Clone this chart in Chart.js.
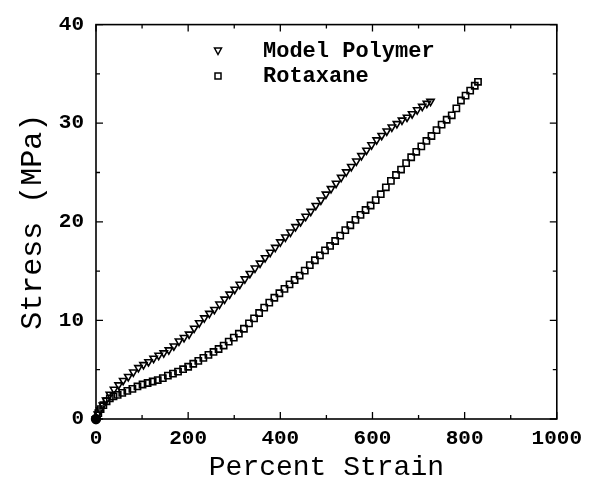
<!DOCTYPE html>
<html>
<head>
<meta charset="utf-8">
<script src="https://cdn.jsdelivr.net/npm/chart.js@4.4.1/dist/chart.umd.min.js"></script>
<style>
  html, body { margin: 0; padding: 0; background: #fff; }
  #wrap { width: 589px; height: 492px; }
</style>
</head>
<body>
<div id="wrap"><canvas id="stressChart"></canvas></div>
<script>
// values (strain in %, stress in MPa)
const modelStrain = [0, 4, 9, 15, 22, 30, 39, 49, 59, 70, 81, 92, 103, 114, 125, 136, 147, 158, 169, 180,
  191, 202, 213, 224, 235, 246, 257, 268, 279, 290, 301, 312, 323, 334, 345, 356, 367, 378, 389, 400,
  411, 422, 433, 444, 455, 466, 477, 488, 499, 510, 521, 532, 543, 554, 565, 576, 587, 598, 609, 620,
  631, 642, 653, 664, 675, 686, 697, 708, 718, 726];
const modelStress = [0, 0.5, 0.9, 1.4, 1.9, 2.5, 3.0, 3.45, 3.9, 4.3, 4.75, 5.2, 5.5, 5.8, 6.15, 6.45, 6.7, 7.0, 7.4, 7.9,
  8.25, 8.6, 9.2, 9.75, 10.25, 10.7, 11.1, 11.65, 12.15, 12.65, 13.15, 13.65, 14.2, 14.75, 15.3, 15.8, 16.35, 16.9, 17.4, 17.95,
  18.45, 18.95, 19.5, 20.0, 20.55, 21.05, 21.65, 22.2, 22.8, 23.35, 23.9, 24.5, 25.05, 25.6, 26.15, 26.7, 27.25, 27.8, 28.3, 28.75,
  29.2, 29.6, 29.95, 30.3, 30.6, 30.95, 31.35, 31.7, 32.0, 32.2];

const rotaxStrain = [0, 5, 10, 16, 23, 30, 38, 47, 57, 68, 79, 90, 101, 112, 123, 134, 145, 156, 167, 178,
  189, 200, 211, 222, 233, 244, 255, 266, 277, 288, 299, 310, 321, 332, 343, 354, 365, 376, 387, 398,
  409, 420, 431, 442, 453, 464, 475, 486, 497, 508, 519, 530, 541, 552, 563, 574, 585, 596, 607, 618,
  629, 640, 651, 662, 673, 684, 695, 706, 717, 728, 739, 750, 761, 772, 782, 792, 802, 812, 822, 829];
const rotaxStress = [0, 0.6, 1.0, 1.4, 1.8, 2.1, 2.3, 2.45, 2.65, 2.85, 3.05, 3.3, 3.5, 3.65, 3.8, 3.95, 4.15, 4.4, 4.6, 4.8,
  5.05, 5.3, 5.6, 5.9, 6.2, 6.5, 6.8, 7.1, 7.45, 7.85, 8.25, 8.65, 9.15, 9.7, 10.2, 10.75, 11.3, 11.8, 12.3, 12.75,
  13.2, 13.65, 14.1, 14.55, 15.05, 15.6, 16.1, 16.6, 17.1, 17.55, 18.05, 18.6, 19.15, 19.65, 20.2, 20.7, 21.2, 21.65, 22.2, 22.8,
  23.5, 24.15, 24.75, 25.3, 25.95, 26.55, 27.1, 27.65, 28.2, 28.7, 29.3, 29.85, 30.35, 30.8, 31.5, 32.3, 32.8, 33.3, 33.8, 34.2];

const seriesNames = ["Model Polymer", "Rotaxane"];
const xMajor = [0, 200, 400, 600, 800, 1000];
const xMinor = [100, 300, 500, 700, 900];
const yMajor = [0, 10, 20, 30, 40];
const yMinor = [5, 15, 25, 35];

const toPoints = (xs, ys) => xs.map((v, i) => ({ x: v, y: ys[i] }));
const monoFont = "'Liberation Mono', 'DejaVu Sans Mono', monospace";

// frame box and inward tick marks
const frameTicks = {
  id: "frameTicks",
  afterDatasetsDraw(chart) {
    const { ctx, chartArea: a, scales: { x, y } } = chart;
    ctx.save();
    ctx.strokeStyle = "#000";
    ctx.lineWidth = 1.6;
    ctx.strokeRect(a.left, a.top, a.right - a.left, a.bottom - a.top);
    ctx.lineWidth = 1.3;
    ctx.beginPath();
    xMajor.forEach((v) => {
      const px = x.getPixelForValue(v);
      ctx.moveTo(px, a.bottom); ctx.lineTo(px, a.bottom - 7);
      ctx.moveTo(px, a.top); ctx.lineTo(px, a.top + 7);
    });
    xMinor.forEach((v) => {
      const px = x.getPixelForValue(v);
      ctx.moveTo(px, a.bottom); ctx.lineTo(px, a.bottom - 4);
      ctx.moveTo(px, a.top); ctx.lineTo(px, a.top + 4);
    });
    yMajor.forEach((v) => {
      const py = y.getPixelForValue(v);
      ctx.moveTo(a.left, py); ctx.lineTo(a.left + 7, py);
      ctx.moveTo(a.right, py); ctx.lineTo(a.right - 7, py);
    });
    yMinor.forEach((v) => {
      const py = y.getPixelForValue(v);
      ctx.moveTo(a.left, py); ctx.lineTo(a.left + 4, py);
      ctx.moveTo(a.right, py); ctx.lineTo(a.right - 4, py);
    });
    ctx.stroke();
    ctx.restore();
  },
};

// legend drawn inside the plot, upper middle
const insideLegend = {
  id: "insideLegend",
  afterDraw(chart) {
    const { ctx } = chart;
    const mx = 218, tx = 263, rows = [51, 76];
    ctx.save();
    ctx.strokeStyle = "#000";
    ctx.fillStyle = "#000";
    ctx.lineWidth = 1.5;
    // triangle pointing down
    ctx.beginPath();
    ctx.moveTo(mx - 3.5, rows[0] - 3);
    ctx.lineTo(mx + 3.5, rows[0] - 3);
    ctx.lineTo(mx, rows[0] + 3.5);
    ctx.closePath();
    ctx.stroke();
    // square
    ctx.strokeRect(mx - 3, rows[1] - 3, 6, 6);
    ctx.font = "bold 22px " + monoFont;
    ctx.textBaseline = "middle";
    ctx.textAlign = "left";
    seriesNames.forEach((name, i) => ctx.fillText(name, tx, rows[i]));
    ctx.restore();
  },
};

const ctx = document.getElementById("stressChart").getContext("2d");
new Chart(ctx, {
  type: "scatter",
  data: {
    datasets: [
      {
        label: seriesNames[0],
        data: toPoints(modelStrain, modelStress),
        pointStyle: "triangle",
        rotation: 180,
        pointRadius: 4.2,
        pointBorderWidth: 1.6,
        borderColor: "#000",
        backgroundColor: "rgba(0,0,0,0)",
        showLine: false,
        clip: false,
      },
      {
        label: seriesNames[1],
        data: toPoints(rotaxStrain, rotaxStress),
        pointStyle: (c) => (c.dataIndex === 0 ? "circle" : "rect"),
        pointRadius: 4.4,
        pointBorderWidth: 1.6,
        borderColor: "#000",
        backgroundColor: (c) => (c.dataIndex === 0 ? "#000" : "rgba(0,0,0,0)"),
        showLine: false,
        clip: false,
      },
    ],
  },
  options: {
    responsive: true,
    maintainAspectRatio: false,
    animation: false,
    events: [],
    layout: {
      padding: { left: 0, right: 27, top: 21, bottom: 0 },
    },
    plugins: {
      legend: { display: false },
      tooltip: { enabled: false },
    },
    scales: {
      x: {
        type: "linear",
        min: 0,
        max: 1000,
        afterFit: (s) => { s.height = 73; },
        afterBuildTicks: (s) => { s.ticks = xMajor.map((v) => ({ value: v })); },
        grid: { display: false, drawTicks: false },
        border: { display: false },
        ticks: {
          color: "#000",
          padding: 7,
          maxRotation: 0,
          callback: (v) => String(v),
          font: { family: monoFont, size: 21, weight: "bold" },
        },
        title: {
          display: true,
          text: "Percent Strain",
          color: "#000",
          padding: { top: 0, bottom: 8 },
          font: { family: monoFont, size: 28, weight: "normal" },
        },
      },
      y: {
        type: "linear",
        min: 0,
        max: 40,
        afterFit: (s) => { s.width = 96; },
        afterBuildTicks: (s) => { s.ticks = yMajor.map((v) => ({ value: v })); },
        grid: { display: false, drawTicks: false },
        border: { display: false },
        ticks: {
          color: "#000",
          padding: 12,
          callback: (v) => String(v),
          font: { family: monoFont, size: 21, weight: "bold" },
        },
        title: {
          display: true,
          text: "Stress (MPa)",
          color: "#000",
          padding: { top: 15, bottom: 0 },
          font: { family: monoFont, size: 30, weight: "normal" },
        },
      },
    },
  },
  plugins: [frameTicks, insideLegend],
});
</script>
</body>
</html>
